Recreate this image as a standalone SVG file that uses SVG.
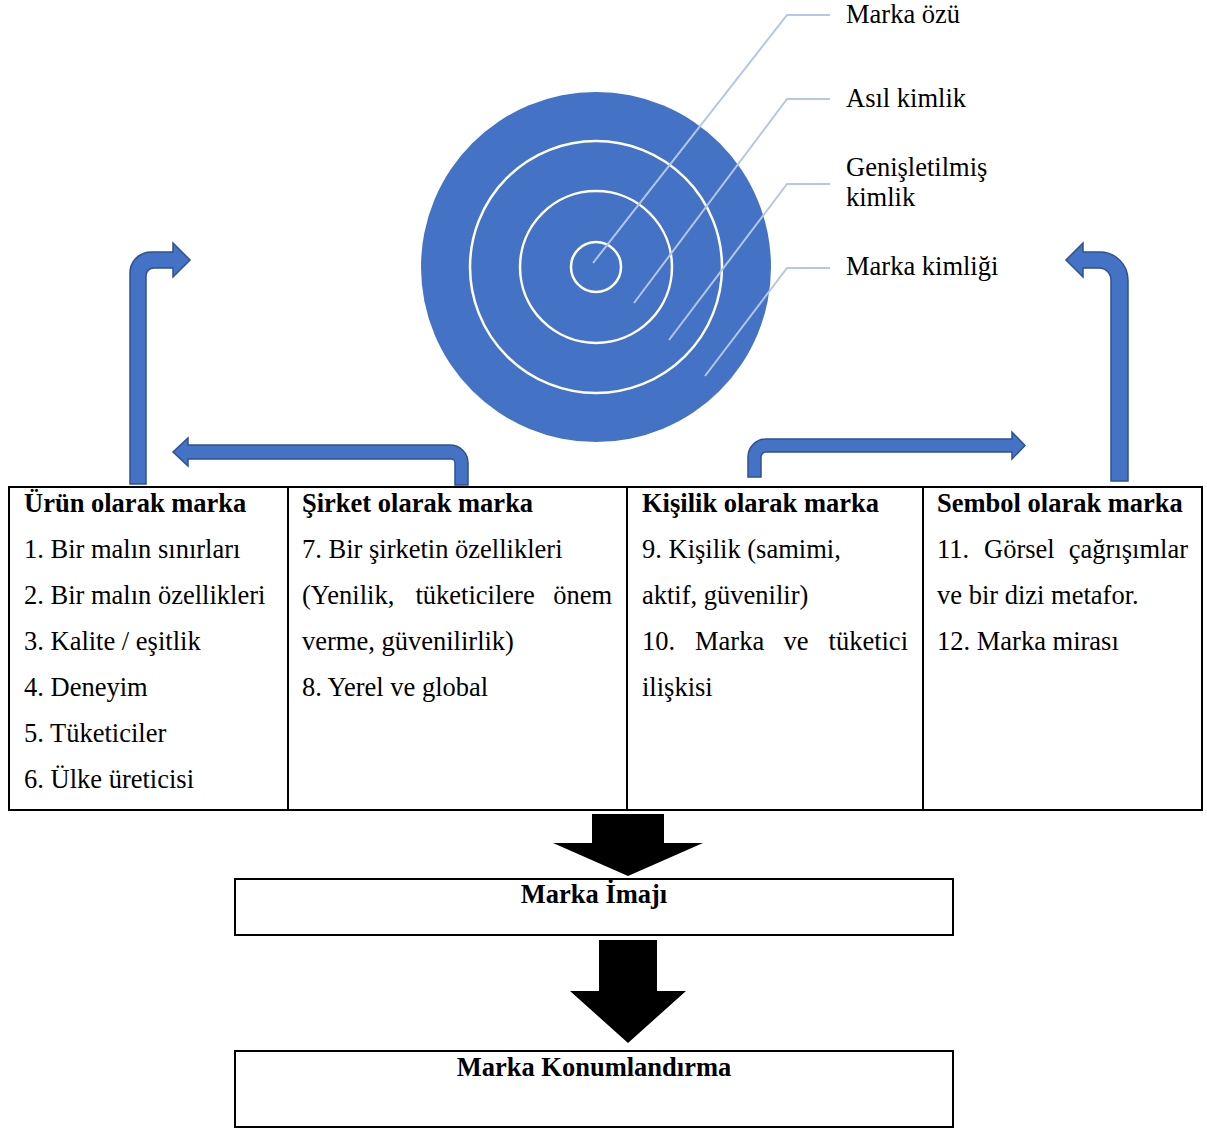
<svg xmlns="http://www.w3.org/2000/svg" width="1207" height="1128" viewBox="0 0 1207 1128">
<style>
text { font-family: "Liberation Serif", "Times New Roman", serif; font-size: 26.5px; fill: #000; }
.b { font-weight: bold; }
.lead { fill: none; stroke: #B4C7E7; stroke-width: 2; }
.ring { fill: none; stroke: #fff; stroke-width: 2.5; }
.blue { fill: #4472C4; stroke: #2F528F; stroke-width: 1.5; }
.blk { fill: #000; }
.cell { fill: #fff; stroke: #000; stroke-width: 2; }
</style>
<rect width="1207" height="1128" fill="#fff"/>

<g id="target">
  <circle cx="596" cy="267" r="175" fill="#4472C4"/>
  <circle class="ring" cx="596" cy="267" r="126"/>
  <circle class="ring" cx="596" cy="267" r="76"/>
  <circle class="ring" cx="596" cy="267" r="25"/>
</g>

<g id="connectors">
  <polyline class="lead" points="593,263 787,15 830,15"/>
  <polyline class="lead" points="634,303 787,99 830,99"/>
  <polyline class="lead" points="669,340 787,184 830,184"/>
  <polyline class="lead" points="705,376 787,268 830,268"/>

  <path class="blue" d="M130,484 L130,273 A21,21 0 0 1 151,252 L173,252 L173,243 L190,260 L173,277 L173,268 L154,268 A8,8 0 0 0 146,276 L146,484 Z"/>
  <path class="blue" d="M188,445 L450,445 A18,18 0 0 1 468,463 L468,485 L455,485 L455,463 A4,4 0 0 0 451,459 L188,459 L188,466 L173,452 L188,438 Z"/>
  <path class="blue" d="M748,477 L748,457 A18,18 0 0 1 766,439 L1012,439 L1012,432 L1025,445.5 L1012,459 L1012,452 L766,452 A5,5 0 0 0 761,457 L761,477 Z"/>
  <path class="blue" d="M1128,481 L1128,280 A28,28 0 0 0 1100,252 L1083,252 L1083,243 L1066,260 L1083,277 L1083,268 L1099,268 A12,12 0 0 1 1111,280 L1111,481 Z"/>

  <polygon class="blk" points="592,814 664,814 664,843 703,843 628,876 553,843 592,843"/>
  <polygon class="blk" points="599,940 657,940 657,991 686,991 628,1043 570,991 599,991"/>
</g>

<g id="labels">
  <text x="846" y="23">Marka özü</text>
  <text x="846" y="107">Asıl kimlik</text>
  <text x="846" y="176">Genişletilmiş</text>
  <text x="846" y="206">kimlik</text>
  <text x="846" y="275">Marka kimliği</text>
</g>

<g id="table">
  <rect class="cell" x="9" y="487" width="1193" height="323"/>
  <line x1="288" y1="487" x2="288" y2="810" stroke="#000" stroke-width="2"/>
  <line x1="627" y1="487" x2="627" y2="810" stroke="#000" stroke-width="2"/>
  <line x1="923" y1="487" x2="923" y2="810" stroke="#000" stroke-width="2"/>
</g>

<g id="col-urun">
  <text class="b" x="24" y="512">Ürün olarak marka</text>
  <text x="24" y="558">1. Bir malın sınırları</text>
  <text x="24" y="604">2. Bir malın özellikleri</text>
  <text x="24" y="650">3. Kalite / eşitlik</text>
  <text x="24" y="696">4. Deneyim</text>
  <text x="24" y="742">5. Tüketiciler</text>
  <text x="24" y="788">6. Ülke üreticisi</text>
</g>

<g id="col-sirket">
  <text class="b" x="302" y="512">Şirket olarak marka</text>
  <text x="302" y="558">7. Bir şirketin özellikleri</text>
  <text x="302" y="604">(Yenilik,</text>
  <text x="415.5" y="604">tüketicilere</text>
  <text x="612" y="604" text-anchor="end">önem</text>
  <text x="302" y="650">verme, güvenilirlik)</text>
  <text x="302" y="696">8. Yerel ve global</text>
</g>

<g id="col-kisilik">
  <text class="b" x="642" y="512">Kişilik olarak marka</text>
  <text x="642" y="558">9. Kişilik (samimi,</text>
  <text x="642" y="604">aktif, güvenilir)</text>
  <text x="642" y="650">10.</text>
  <text x="695" y="650">Marka</text>
  <text x="783.5" y="650">ve</text>
  <text x="908" y="650" text-anchor="end">tüketici</text>
  <text x="642" y="696">ilişkisi</text>
</g>

<g id="col-sembol">
  <text class="b" x="937" y="512">Sembol olarak marka</text>
  <text x="937" y="558">11.</text>
  <text x="984" y="558">Görsel</text>
  <text x="1188" y="558" text-anchor="end">çağrışımlar</text>
  <text x="937" y="604">ve bir dizi metafor.</text>
  <text x="937" y="650">12. Marka mirası</text>
</g>

<g id="imaj">
  <rect class="cell" x="235" y="879" width="718" height="56"/>
  <text class="b" x="594" y="903" text-anchor="middle">Marka İmajı</text>
</g>

<g id="konum">
  <rect class="cell" x="235" y="1051" width="718" height="76"/>
  <text class="b" x="594" y="1076" text-anchor="middle">Marka Konumlandırma</text>
</g>
</svg>
